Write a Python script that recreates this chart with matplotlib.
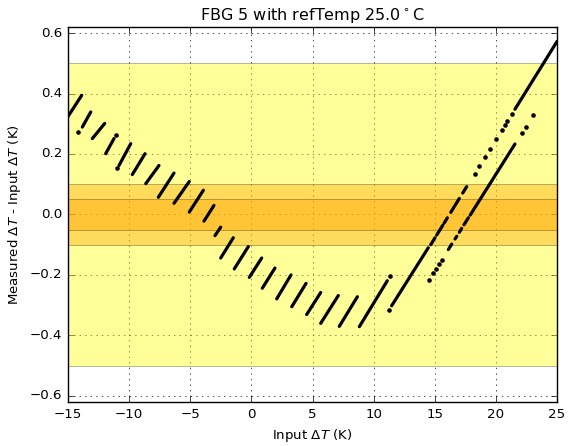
import matplotlib
matplotlib.use("Agg")
import matplotlib.pyplot as plt

plt.style.use("classic")
plt.rcParams["mathtext.fontset"] = "dejavusans"
plt.rcParams["font.size"] = 9.6
plt.rcParams["axes.axisbelow"] = True

# solid runs of points: start x, start y, end x, end y
seg_x0 = [-15.1, -13.83, -13.01, -11.92, -10.83, -9.74, -8.64, -7.61, -6.33, -5.08,
          -3.88, -2.98, -2.51, -1.40, -0.17, 0.89, 2.07, 3.30, 4.52, 5.67, 7.19, 8.83,
          11.47, 14.67, 15.16, 15.76, 16.31, 16.66, 17.29, 21.56,
          16.11, 16.66, 17.01, 17.39, 17.90]
seg_y0 = [0.318, 0.289, 0.251, 0.201, 0.162, 0.132, 0.102, 0.057, 0.037, 0.008,
          -0.022, -0.070, -0.144, -0.180, -0.208, -0.244, -0.279, -0.305, -0.331, -0.360, -0.370, -0.371,
          -0.302, -0.100, -0.068, -0.029, 0.007, 0.030, 0.071, 0.348,
          -0.116, -0.081, -0.059, -0.034, -0.002]
seg_x1 = [-13.88, -13.14, -12.00, -11.24, -9.87, -8.70, -7.56, -6.33, -5.08, -3.93,
          -3.06, -2.51, -1.48, -0.25, 0.84, 1.93, 3.24, 4.47, 5.67, 7.11, 8.67, 11.12,
          14.47, 15.02, 15.65, 16.03, 16.58, 17.01, 17.61, 25.0,
          16.39, 16.80, 17.20, 17.75, 21.56]
seg_y1 = [0.394, 0.339, 0.301, 0.251, 0.234, 0.201, 0.162, 0.137, 0.109, 0.080,
          0.030, -0.042, -0.077, -0.106, -0.144, -0.177, -0.200, -0.228, -0.258, -0.268, -0.272, -0.219,
          -0.110, -0.077, -0.036, -0.011, 0.025, 0.053, 0.092, 0.572,
          -0.098, -0.072, -0.046, -0.011, 0.233]

# isolated points
dot_x = [-14.18, -11.05, -11.02, 11.34, 11.28,
         18.29, 18.64, 19.11, 19.52, 20.01, 20.48, 20.75, 20.94, 21.29,
         14.55, 14.88, 15.10, 15.37, 15.59, 22.11, 22.46, 23.01]
dot_y = [0.273, 0.264, 0.153, -0.204, -0.316,
         0.135, 0.159, 0.189, 0.216, 0.248, 0.278, 0.296, 0.308, 0.331,
         -0.216, -0.195, -0.181, -0.164, -0.149, 0.268, 0.290, 0.330]

bands = [0.5, 0.1, 0.05]
band_colors = ["yellow", "orange", "orange"]

fig = plt.figure(figsize=(5.74, 4.46), dpi=100)
ax = fig.add_axes([0.1185, 0.0987, 0.8519, 0.8408])

for b, c in zip(bands, band_colors):
    ax.axhspan(-b, b, facecolor=c, edgecolor="k", alpha=0.4, lw=0.5, zorder=1)

for x0, y0, x1, y1 in zip(seg_x0, seg_y0, seg_x1, seg_y1):
    ax.plot([x0, x1], [y0, y1], "k-", lw=2.3, solid_capstyle="round", zorder=3)
ax.plot(dot_x, dot_y, "ko", ms=3.3, mew=0, zorder=3)

ax.set_xlim(-15, 25)
ax.set_ylim(-0.62, 0.62)
ax.set_xticks(range(-15, 26, 5))
ax.set_yticks([-0.6, -0.4, -0.2, 0.0, 0.2, 0.4, 0.6])
ax.grid(True)
ax.set_xlabel(r"Input $\Delta T$ (K)")
ax.set_ylabel(r"Measured $\Delta T$ - Input $\Delta T$ (K)")
ax.set_title(r"FBG 5 with refTemp 25.0$^\circ$C")

fig.savefig("out.png", dpi=100, facecolor="white")
